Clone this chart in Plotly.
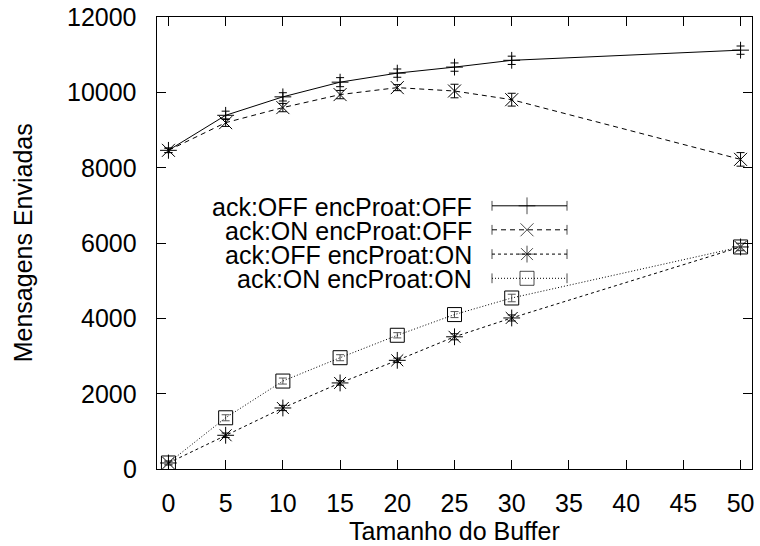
import plotly.graph_objects as go

# ---- data ----
buffer_sizes = [0, 5, 10, 15, 20, 25, 30, 50]
series_names = ["ack:OFF encProat:OFF", "ack:ON encProat:OFF",
                "ack:OFF encProat:ON", "ack:ON encProat:ON"]
ack_off_enc_off = [8460, 9390, 9880, 10270, 10510, 10670, 10850, 11120]
ack_on_enc_off = [8460, 9195, 9595, 9940, 10125, 10035, 9805, 8220]
ack_off_enc_on = [160, 895, 1620, 2285, 2885, 3510, 4010, 5895]
ack_on_enc_on = [160, 1360, 2335, 2955, 3550, 4100, 4540, 5895]
err_ack_off_enc_off = [60, 110, 110, 120, 110, 110, 110, 110]
err_ack_on_enc_off = [60, 100, 110, 110, 80, 180, 170, 180]
err_ack_off_enc_on = [50, 60, 70, 60, 60, 80, 80, 90]
err_ack_on_enc_on = [50, 80, 80, 80, 70, 80, 100, 100]
x_ticks = [0, 5, 10, 15, 20, 25, 30, 35, 40, 45, 50]
y_ticks = [0, 2000, 4000, 6000, 8000, 10000, 12000]
y_tick_labels = ["0", "2000", "4000", "6000", "8000", "10000", "12000"]
x_tick_labels = [str(v) for v in x_ticks]

values = [ack_off_enc_off, ack_on_enc_off, ack_off_enc_on, ack_on_enc_on]
errors = [err_ack_off_enc_off, err_ack_on_enc_off, err_ack_off_enc_on, err_ack_on_enc_on]
dashes = ["solid", "5px,4px", "3px,3px", "1px,2px"]
symbols = ["cross-thin-open", "x-thin-open", "asterisk-open", "square-open"]
sizes = [12, 13, 14, 14]
err_colors = ["black", "black", "black", "#555555"]

FONT = "Liberation Sans, Arial, Helvetica, sans-serif"
FS = 25
fig = go.Figure()

for name, ys, es, d, s, sz, ec in zip(series_names, values, errors, dashes, symbols, sizes, err_colors):
    fig.add_trace(go.Scatter(
        x=buffer_sizes, y=ys, name=name, mode="lines+markers",
        line=dict(color="black", width=1, dash=d),
        marker=dict(symbol=s, size=sz, color="black", line=dict(color="black", width=1)),
        error_y=dict(type="data", array=es, visible=True, color=ec, thickness=1, width=4),
        showlegend=False,
    ))

# ---- gnuplot-style key (text left of the sample) ----
W, H = 595.0, 452.0
L, T = 156.7, 16.7
def fx(px):
    return (px - L) / W
def fy(py):
    return (T + H - py) / H

row_px = [205.5, 229.5, 253.8, 278.0]
for name, d, s, sz, rp in zip(series_names, dashes, symbols, sizes, row_px):
    fig.add_trace(go.Scatter(
        x=[fx(491.7), fx(526.7), fx(566.7)], y=[fy(rp)] * 3,
        xaxis="x2", yaxis="y2", mode="lines+markers",
        line=dict(color="black", width=1, dash=d),
        marker=dict(symbol=["line-ns-open", s, "line-ns-open"], size=[7, sz, 7],
                    color="black", line=dict(color="black", width=1)),
        showlegend=False, hoverinfo="skip",
    ))
    fig.add_annotation(x=fx(474), y=fy(rp + 1), xref="paper", yref="paper",
                       text=name, showarrow=False, xanchor="right", yanchor="middle",
                       font=dict(family=FONT, size=FS, color="black"))

# y tick labels (gnuplot places them well left of the frame)
for v, lab in zip(y_ticks, y_tick_labels):
    fig.add_annotation(x=fx(139), y=v, xref="paper", yref="y", text=lab,
                       showarrow=False, xanchor="right", yanchor="middle",
                       font=dict(family=FONT, size=FS, color="black"))

fig.add_annotation(x=0.5, y=fy(531), xref="paper", yref="paper", text="Tamanho do Buffer",
                   showarrow=False, xanchor="center", yanchor="middle",
                   font=dict(family=FONT, size=FS, color="black"))
fig.add_annotation(x=fx(23), y=0.5, xref="paper", yref="paper", text="Mensagens Enviadas",
                   showarrow=False, xanchor="center", yanchor="middle", textangle=-90,
                   font=dict(family=FONT, size=FS, color="black"))

axis_common = dict(showgrid=False, zeroline=False, showline=True, linecolor="black",
                   linewidth=1, mirror="allticks", ticks="inside", ticklen=9,
                   tickwidth=1, tickcolor="black",
                   tickfont=dict(family=FONT, size=FS, color="black"))

fig.update_layout(
    width=760, height=546,
    margin=dict(l=157, r=8, t=17, b=77, autoexpand=False),
    paper_bgcolor="white", plot_bgcolor="white",
    xaxis=dict(range=[-1, 51], tickvals=x_ticks, ticktext=x_tick_labels,
               ticklabelstandoff=12, **axis_common),
    yaxis=dict(range=[0, 12000], tickvals=y_ticks, ticktext=y_tick_labels,
               showticklabels=False, **axis_common),
    xaxis2=dict(range=[0, 1], overlaying="x", anchor="y2", visible=False, fixedrange=True),
    yaxis2=dict(range=[0, 1], overlaying="y", anchor="x2", visible=False, fixedrange=True),
    font=dict(family=FONT, size=FS, color="black"),
)

fig.write_html("out.html")
